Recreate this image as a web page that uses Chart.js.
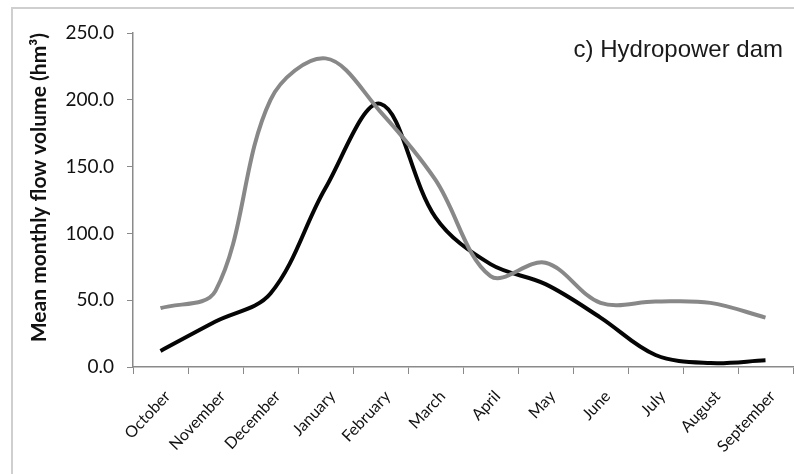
<!DOCTYPE html>
<html lang="en">
<head>
    <meta charset="UTF-8">
    <title>Hydropower dam</title>
    <script src="https://cdn.jsdelivr.net/npm/chart.js"></script>
    <style>
        body { margin: 0; background: #fff; }
        #wrap { position: relative; width: 794px; height: 474px; overflow: hidden; }
        #frame {
            position: absolute; left: 11px; top: 7px; width: 800px; height: 480px;
            border-top: 2px solid #cfcfcf; border-left: 2px solid #cfcfcf;
        }
        #grafico { position: absolute; left: 0; top: 0; }
    </style>
    <script>
        var meses = ['October', 'November', 'December', 'January', 'February', 'March',
                     'April', 'May', 'June', 'July', 'August', 'September'];
        var serieCinza = [44, 57, 200, 231, 191, 140, 68, 78, 48, 49, 48, 37];
        var seriePreta = [12, 34, 55, 134, 197, 112, 77, 62, 37, 9, 3, 5];
        var ticksY = [0, 50, 100, 150, 200, 250];

        var tituloPainel = {
            id: 'tituloPainel',
            afterDraw: function(chart) {
                var ctx = chart.ctx;
                ctx.save();
                ctx.font = '24px "Liberation Sans", Arial, sans-serif';
                ctx.fillStyle = '#1a1a1a';
                ctx.textAlign = 'right';
                ctx.textBaseline = 'alphabetic';
                ctx.fillText('c) Hydropower dam', 783, 57);
                ctx.restore();
            }
        };

        function desenharGrafico() {
            var ctx = document.getElementById('grafico').getContext('2d');
            var eixo = '#8a8a8a';

            new Chart(ctx, {
                type: 'line',
                data: {
                    labels: meses,
                    datasets: [{
                        label: 'Series 2',
                        data: serieCinza,
                        borderColor: '#888888',
                        borderWidth: 4,
                        pointRadius: 0,
                        tension: 0.35,
                        fill: false
                    }, {
                        label: 'Series 1',
                        data: seriePreta,
                        borderColor: '#050505',
                        borderWidth: 4,
                        pointRadius: 0,
                        tension: 0.35,
                        fill: false
                    }]
                },
                options: {
                    responsive: false,
                    animation: false,
                    devicePixelRatio: 1,
                    layout: { padding: { left: 0, top: 33, right: 1, bottom: 0 } },
                    plugins: {
                        legend: { display: false },
                        tooltip: { enabled: false }
                    },
                    scales: {
                        x: {
                            offset: true,
                            border: { color: eixo, width: 1.5 },
                            grid: { drawOnChartArea: false, drawTicks: true, tickLength: 7, color: eixo, offset: true },
                            ticks: {
                                color: '#111',
                                font: { family: 'Lato', size: 16 },
                                minRotation: 47,
                                maxRotation: 47,
                                padding: 13,
                                labelOffset: 7,
                                autoSkip: false
                            },
                            afterFit: function(scale) { scale.height = 107; }
                        },
                        y: {
                            min: 0,
                            max: 250,
                            afterBuildTicks: function(scale) {
                                scale.ticks = ticksY.map(function(v) { return { value: v }; });
                            },
                            border: { color: eixo, width: 1.5 },
                            grid: { drawOnChartArea: false, drawTicks: true, tickLength: 6, color: eixo },
                            ticks: {
                                color: '#111',
                                font: { family: 'Lato', size: 19 },
                                padding: 13,
                                callback: function(v) { return Number(v).toFixed(1); }
                            },
                            title: {
                                display: true,
                                text: 'Mean monthly flow volume (hm³)',
                                align: 'end',
                                color: '#111',
                                font: { family: 'Lato', size: 21, weight: 'bold' },
                                padding: { top: 27, bottom: 0 }
                            },
                            afterFit: function(scale) { scale.width = 133; }
                        }
                    }
                },
                plugins: [tituloPainel]
            });
        }

        window.onload = function() {
            desenharGrafico();
        };
    </script>
</head>
<body>
    <div id="wrap">
        <div id="frame"></div>
        <canvas id="grafico" width="794" height="474"></canvas>
    </div>
</body>
</html>
